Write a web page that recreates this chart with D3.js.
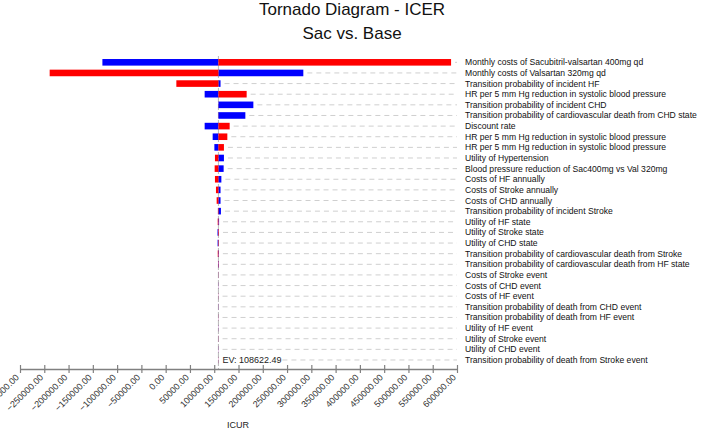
<!DOCTYPE html>
<html>
<head>
<meta charset="utf-8">
<script src="https://cdn.jsdelivr.net/npm/d3@7"></script>
<style>
  body { margin: 0; background: #fff; }
  text { font-family: "Liberation Sans", Arial, sans-serif; }
</style>
</head>
<body>
<div id="chart"></div>
<script>
// Parameters (top to bottom)
const params = [
  "Monthly costs of Sacubitril-valsartan 400mg qd",
  "Monthly costs of Valsartan 320mg qd",
  "Transition probability of incident HF",
  "HR per 5 mm Hg reduction in systolic blood pressure",
  "Transition probability of incident CHD",
  "Transition probability of cardiovascular death from CHD state",
  "Discount rate",
  "HR per 5 mm Hg reduction in systolic blood pressure",
  "HR per 5 mm Hg reduction in systolic blood pressure",
  "Utility of Hypertension",
  "Blood pressure reduction of Sac400mg vs Val 320mg",
  "Costs of HF annually",
  "Costs of Stroke annually",
  "Costs of CHD annually",
  "Transition probability of incident Stroke",
  "Utility of HF state",
  "Utility of Stroke state",
  "Utility of CHD state",
  "Transition probability of cardiovascular death from Stroke",
  "Transition probability of cardiovascular death from HF state",
  "Costs of Stroke event",
  "Costs of CHD event",
  "Costs of HF event",
  "Transition probability of death from CHD event",
  "Transition probability of death from HF event",
  "Utility of HF event",
  "Utility of Stroke event",
  "Utility of CHD event",
  "Transition probability of death from Stroke event"
];

// ICUR at each end of the range (blue / red)
const blueValues = [
  -130300, 283500, 113000, 80300, 180600, 164100, 80300, 96800, 100300,
  120000, 119400, 114700, 113000, 113000, 113800, 110000, 106800, 107000,
  109600, 107800, 108400, 108900, 108400, 108900, 108400, 108900, 108400,
  108900, 108400
];
const redValues = [
  587800, -238900, 22000, 166800, 108400, 108400, 131800, 127000, 120000,
  101500, 100900, 101500, 103600, 105000, 107600, 107200, 109800, 109500,
  107300, 109300, 108900, 108400, 108900, 108400, 108900, 108400, 108900,
  108400, 108900
];

const expectedValue = 108622.49;
const xTicks = d3.range(-300000, 600001, 50000);

const W = 708, H = 432;
const axisY = 369;

const svg = d3.select("#chart").append("svg")
  .attr("width", W)
  .attr("height", H);

svg.append("rect").attr("width", W).attr("height", H).attr("fill", "#fff");

// Title
svg.append("text")
  .attr("x", 352).attr("y", 15)
  .attr("text-anchor", "middle")
  .style("font-size", "17px")
  .attr("fill", "#111")
  .text("Tornado Diagram - ICER");
svg.append("text")
  .attr("x", 352).attr("y", 39)
  .attr("text-anchor", "middle")
  .style("font-size", "17px")
  .attr("fill", "#111")
  .text("Sac vs. Base");

// Scales
const x = d3.scaleLinear()
  .domain([-300000, 600000])
  .range([20, 457]);

const y = d3.scaleBand()
  .domain(d3.range(params.length))
  .range([57, 365.3])
  .paddingInner(0.38)
  .paddingOuter(0.19);

const ev = x(expectedValue);
const lastRow = params.length - 1;

// Dashed guide lines for each row
svg.append("g")
  .selectAll("line")
  .data(params)
  .join("line")
  .attr("x1", (d, i) => i === lastRow ? ev + 64 : x(Math.max(blueValues[i], redValues[i], expectedValue)) + 4)
  .attr("x2", 457)
  .attr("y1", (d, i) => y(i) + y.bandwidth() / 2)
  .attr("y2", (d, i) => y(i) + y.bandwidth() / 2)
  .attr("stroke", "#cfcfcf")
  .attr("stroke-width", 1)
  .attr("stroke-dasharray", "5,4");

// EV line
svg.append("line")
  .attr("x1", ev).attr("x2", ev)
  .attr("y1", 56).attr("y2", axisY)
  .attr("stroke", "#b8b8b8")
  .attr("stroke-width", 1)
  .attr("stroke-dasharray", "6,2");

// Bars
const bars = svg.append("g");
const drawSide = (values, color) => {
  bars.append("g")
    .selectAll("rect")
    .data(values)
    .join("rect")
    .attr("x", d => x(Math.min(d, expectedValue)))
    .attr("width", d => Math.abs(x(d) - ev))
    .attr("y", (d, i) => y(i))
    .attr("height", y.bandwidth())
    .attr("fill", color);
};
drawSide(blueValues, "#0000ff");
drawSide(redValues, "#ff0000");

// Parameter labels
svg.append("g")
  .selectAll("text")
  .data(params)
  .join("text")
  .attr("x", 465)
  .attr("y", (d, i) => y(i) + y.bandwidth() / 2)
  .attr("dy", "0.35em")
  .style("font-size", "8.6px")
  .attr("fill", "#111")
  .text(d => d);

// EV label
svg.append("text")
  .attr("x", ev + 4)
  .attr("y", y(lastRow) + y.bandwidth() / 2)
  .attr("dy", "0.35em")
  .style("font-size", "9px")
  .attr("fill", "#222")
  .text("EV: " + expectedValue.toFixed(2));

// X axis
const axis = svg.append("g")
  .attr("transform", `translate(0, ${axisY})`)
  .call(d3.axisBottom(x).tickValues(xTicks).tickFormat(d3.format(".2f")).tickSizeOuter(0));

axis.select(".domain").attr("stroke", "#808080").attr("stroke-width", 1.5);
axis.selectAll(".tick line")
  .attr("y1", -4).attr("y2", 4)
  .attr("stroke", "#808080")
  .attr("stroke-width", 1.2);
axis.selectAll(".tick text")
  .attr("fill", "#333")
  .style("font-size", "9px")
  .style("font-family", "'Liberation Sans', Arial, sans-serif")
  .attr("text-anchor", "end")
  .attr("y", 0).attr("dy", 0)
  .attr("transform", "translate(-1, 9) rotate(-45)");

// Axis title
svg.append("text")
  .attr("x", 238).attr("y", 428)
  .attr("text-anchor", "middle")
  .style("font-size", "9px")
  .attr("fill", "#222")
  .text("ICUR");
</script>
</body>
</html>
